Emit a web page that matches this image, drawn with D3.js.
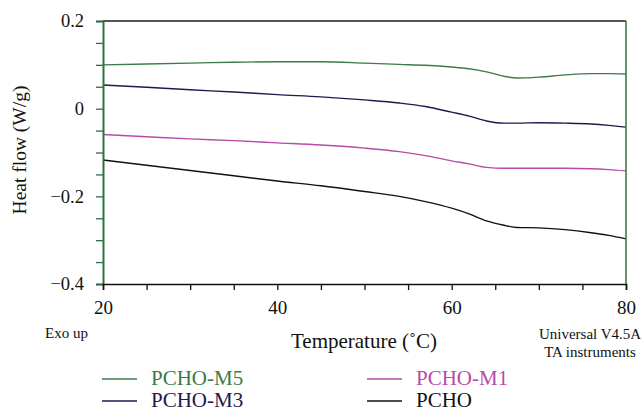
<!DOCTYPE html>
<html>
<head>
<meta charset="utf-8">
<script src="https://cdn.jsdelivr.net/npm/d3@7"></script>
<style>
  body { margin: 0; background: #fff; }
  svg { display: block; font-family: "Liberation Serif", "DejaVu Serif", serif; }
</style>
</head>
<body>
<div id="wrapper"></div>
<script>
const temps = [20, 25, 30, 35, 40, 45, 50, 54, 57, 60, 62, 64, 66, 67.5, 70, 73, 76, 78, 80]

// heat flow (W/g)
const pchoM5 = [0.100, 0.102, 0.104, 0.106, 0.107, 0.107, 0.104, 0.101, 0.099, 0.095, 0.091, 0.084, 0.074, 0.070, 0.072, 0.077, 0.080, 0.080, 0.079]
const pchoM3 = [0.054, 0.049, 0.043, 0.038, 0.032, 0.027, 0.020, 0.013, 0.005, -0.008, -0.017, -0.028, -0.033, -0.033, -0.032, -0.033, -0.035, -0.038, -0.042]
const pchoM1 = [-0.059, -0.064, -0.069, -0.073, -0.078, -0.083, -0.090, -0.098, -0.107, -0.119, -0.126, -0.134, -0.136, -0.136, -0.136, -0.136, -0.137, -0.139, -0.142]
const pcho = [-0.117, -0.129, -0.141, -0.153, -0.165, -0.176, -0.189, -0.200, -0.212, -0.227, -0.240, -0.256, -0.266, -0.271, -0.272, -0.276, -0.283, -0.289, -0.297]

const seriesNames = ["PCHO-M5", "PCHO-M3", "PCHO-M1", "PCHO"]
const seriesColors = ["#3b7b48", "#1c1a4e", "#b84aa9", "#111111"]
const seriesValues = [pchoM5, pchoM3, pchoM1, pcho]

const xTickLabels = [20, 40, 60, 80]
const yTickLabels = [0.2, 0, -0.2, -0.4]

const dimensions = {
  width: 643,
  height: 412,
  margin: { top: 21, right: 17, bottom: 128, left: 103 }
}
dimensions.boundedWidth = dimensions.width - dimensions.margin.left - dimensions.margin.right
dimensions.boundedHeight = dimensions.height - dimensions.margin.top - dimensions.margin.bottom

const svg = d3.select("#wrapper").append("svg")
  .attr("width", dimensions.width)
  .attr("height", dimensions.height)

const bounds = svg.append("g")
  .attr("transform", `translate(${dimensions.margin.left},${dimensions.margin.top})`)

const xScale = d3.scaleLinear().domain([20, 80]).range([0, dimensions.boundedWidth])
const yScale = d3.scaleLinear().domain([-0.4, 0.2]).range([dimensions.boundedHeight, 0])

// curves
const lineGen = d3.line()
  .x((d, i) => xScale(temps[i]))
  .y(d => yScale(d))
  .curve(d3.curveMonotoneX)

seriesValues.forEach((vals, i) => {
  bounds.append("path")
    .datum(vals)
    .attr("d", lineGen)
    .attr("fill", "none")
    .attr("stroke", seriesColors[i])
    .attr("stroke-width", 1.4)
})

// frame: top grey, right side green
bounds.append("line")
  .attr("x1", 0).attr("x2", dimensions.boundedWidth)
  .attr("y1", 0).attr("y2", 0)
  .attr("stroke", "#555").attr("stroke-width", 2)
bounds.append("line")
  .attr("x1", dimensions.boundedWidth).attr("x2", dimensions.boundedWidth)
  .attr("y1", 0).attr("y2", dimensions.boundedHeight)
  .attr("stroke", "#3b7b48").attr("stroke-width", 1.6)

// y axis (green)
const yAxis = bounds.append("g")
  .call(d3.axisLeft(yScale)
    .tickValues(d3.range(-0.4, 0.2001, 0.05))
    .tickSize(7)
    .tickFormat(d => {
      const hit = yTickLabels.find(v => Math.abs(v - d) < 1e-6)
      if (hit === undefined) return ""
      return hit === 0 ? "0" : (hit < 0 ? "\u2212" + Math.abs(hit) : String(hit))
    }))
yAxis.select(".domain").attr("stroke", "#2f6e3d").attr("stroke-width", 2)
yAxis.selectAll(".tick line").attr("stroke", "#2f6e3d").attr("stroke-width", 1.3)
yAxis.selectAll(".tick text")
  .attr("x", -19)
  .style("font-family", "'Liberation Serif', serif")
  .style("font-size", "18.5px")
  .attr("fill", "#111")

// x axis (black)
const xAxis = bounds.append("g")
  .attr("transform", `translate(0,${dimensions.boundedHeight})`)
  .call(d3.axisBottom(xScale)
    .tickValues(d3.range(20, 80.01, 5))
    .tickSize(6)
    .tickFormat(d => xTickLabels.includes(d) ? d : ""))
xAxis.select(".domain").attr("stroke", "#111").attr("stroke-width", 1.6)
xAxis.selectAll(".tick line").attr("stroke", "#111").attr("stroke-width", 1.3)
xAxis.selectAll(".tick text")
  .attr("y", 17)
  .style("font-family", "'Liberation Serif', serif")
  .style("font-size", "19px")
  .attr("fill", "#111")

// axis titles
svg.append("text")
  .attr("transform", `translate(26,150) rotate(-90)`)
  .attr("text-anchor", "middle")
  .style("font-size", "19.5px")
  .attr("fill", "#111")
  .text("Heat flow (W/g)")

svg.append("text")
  .attr("x", 364).attr("y", 348)
  .attr("text-anchor", "middle")
  .style("font-size", "21px")
  .attr("fill", "#111")
  .text("Temperature (\u02DAC)")

svg.append("text")
  .attr("x", 45).attr("y", 338)
  .style("font-size", "15px")
  .attr("fill", "#111")
  .text("Exo up")

svg.append("text")
  .attr("x", 590).attr("y", 339)
  .attr("text-anchor", "middle")
  .style("font-size", "15px")
  .attr("fill", "#111")
  .text("Universal V4.5A")
svg.append("text")
  .attr("x", 590).attr("y", 357)
  .attr("text-anchor", "middle")
  .style("font-size", "15px")
  .attr("fill", "#111")
  .text("TA instruments")

// legend
const legendPos = [[102, 379], [102, 401], [367, 379], [367, 401]]
seriesNames.forEach((name, i) => {
  const [lx, ly] = legendPos[i]
  svg.append("line")
    .attr("x1", lx).attr("x2", lx + 35)
    .attr("y1", ly).attr("y2", ly)
    .attr("stroke", seriesColors[i]).attr("stroke-width", 1.4)
  svg.append("text")
    .attr("x", lx + 49).attr("y", ly + 6)
    .style("font-size", "21px")
    .attr("fill", seriesColors[i])
    .text(name)
})
</script>
</body>
</html>
